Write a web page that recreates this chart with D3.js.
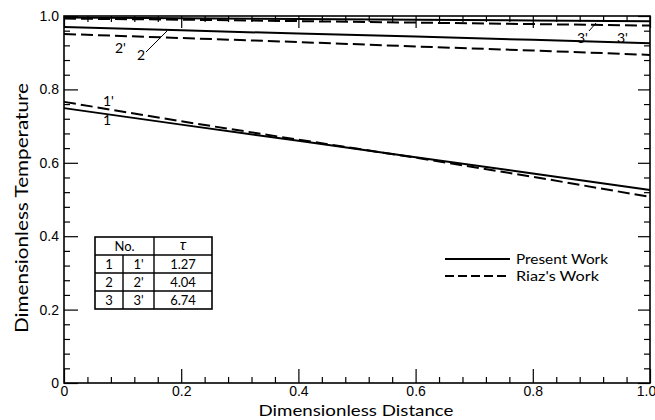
<!DOCTYPE html>
<html>
<head>
<meta charset="utf-8">
<script src="https://cdn.jsdelivr.net/npm/d3@7"></script>
<style>
  body { margin: 0; background: #fff; }
  svg { font-family: Lato, "Open Sans", sans-serif; }
</style>
</head>
<body>
<div id="chart"></div>
<script>
// data
const xPts = [0, 0.2, 0.4, 0.6, 0.8, 1.0];
const present1 = [0.749, 0.704, 0.660, 0.615, 0.571, 0.526];
const riaz1    = [0.766, 0.713, 0.663, 0.614, 0.562, 0.507];
const present2 = [0.970, 0.961, 0.952, 0.944, 0.935, 0.926];
const riaz2    = [0.951, 0.940, 0.929, 0.917, 0.906, 0.894];
const present3 = [0.996, 0.994, 0.992, 0.990, 0.988, 0.986];
const riaz3    = [0.993, 0.990, 0.986, 0.982, 0.978, 0.974];

const xTickLabels = ['0', '0.2', '0.4', '0.6', '0.8', '1.0'];
const yTickLabels = ['0', '0.2', '0.4', '0.6', '0.8', '1.0'];
const majorTicks = [0, 0.2, 0.4, 0.6, 0.8, 1.0];
const minorTicks = [0.04, 0.08, 0.12, 0.16, 0.24, 0.28, 0.32, 0.36, 0.44, 0.48, 0.52, 0.56,
                    0.64, 0.68, 0.72, 0.76, 0.84, 0.88, 0.92, 0.96];

const tableNo = [['1', "1'"], ['2', "2'"], ['3', "3'"]];
const tableTau = ['1.27', '4.04', '6.74'];
const legendNames = ['Present Work', "Riaz's Work"];

const width = 655, height = 420;
const margin = {top: 16, right: 5, bottom: 37, left: 64};
const plotW = width - margin.left - margin.right;
const plotH = height - margin.top - margin.bottom;

const svg = d3.select('#chart').append('svg')
    .attr('width', width)
    .attr('height', height);

const g = svg.append('g')
    .attr('transform', `translate(${margin.left},${margin.top})`);

const x = d3.scaleLinear().domain([0, 1]).range([0, plotW]);
const y = d3.scaleLinear().domain([0, 1]).range([plotH, 0]);

// frame
g.append('rect')
    .attr('width', plotW).attr('height', plotH)
    .attr('fill', 'none').attr('stroke', '#000').attr('stroke-width', 1.6);

function styleAxis(sel) {
    sel.select('.domain').remove();
    sel.selectAll('line').attr('stroke', '#000').attr('stroke-width', 1.2);
    sel.selectAll('text').attr('fill', '#000').attr('font-size', 14);
}

// bottom axis
const xAx = g.append('g').attr('transform', `translate(0,${plotH})`)
    .call(d3.axisBottom(x).tickValues(majorTicks).tickSize(-14).tickPadding(3)
        .tickFormat((d, i) => xTickLabels[i]))
    .call(styleAxis);
xAx.selectAll('.tick').filter(d => d === 1).select('text').attr('dx', -4);
g.append('g').attr('transform', `translate(0,${plotH})`)
    .call(d3.axisBottom(x).tickValues(minorTicks).tickSize(-6).tickFormat(''))
    .call(styleAxis);
// top axis
g.append('g')
    .call(d3.axisTop(x).tickValues(majorTicks).tickSize(-12).tickFormat(''))
    .call(styleAxis);
g.append('g')
    .call(d3.axisTop(x).tickValues(minorTicks).tickSize(-6).tickFormat(''))
    .call(styleAxis);
// left axis
g.append('g')
    .call(d3.axisLeft(y).tickValues(majorTicks).tickSize(-14).tickPadding(5)
        .tickFormat((d, i) => yTickLabels[i]))
    .call(styleAxis);
g.append('g')
    .call(d3.axisLeft(y).tickValues(minorTicks).tickSize(-6).tickFormat(''))
    .call(styleAxis);
// right axis
g.append('g').attr('transform', `translate(${plotW},0)`)
    .call(d3.axisRight(y).tickValues(majorTicks).tickSize(-12).tickFormat(''))
    .call(styleAxis);
g.append('g').attr('transform', `translate(${plotW},0)`)
    .call(d3.axisRight(y).tickValues(minorTicks).tickSize(-6).tickFormat(''))
    .call(styleAxis);

// curves
const line = d3.line().x((d, i) => x(xPts[i])).y(d => y(d));
const series = [
    {vals: present1, dash: null},
    {vals: riaz1, dash: '12,5'},
    {vals: present2, dash: null},
    {vals: riaz2, dash: '12,5'},
    {vals: present3, dash: null},
    {vals: riaz3, dash: '12,5'}
];
series.forEach(s => {
    g.append('path')
        .datum(s.vals)
        .attr('d', line)
        .attr('fill', 'none')
        .attr('stroke', '#000')
        .attr('stroke-width', 2)
        .attr('stroke-dasharray', s.dash);
});

// curve labels
const lab = svg.append('g').attr('font-size', 14).attr('fill', '#000');
lab.append('text').attr('x', 103).attr('y', 106).text("1'");
lab.append('text').attr('x', 103).attr('y', 125).text('1');
lab.append('text').attr('x', 115).attr('y', 53).text("2'");
lab.append('text').attr('x', 137).attr('y', 60).text('2');
lab.append('text').attr('x', 577).attr('y', 43).text("3'");
lab.append('text').attr('x', 617).attr('y', 43).text("3'");
svg.append('line').attr('x1', 146).attr('y1', 52).attr('x2', 167).attr('y2', 31)
    .attr('stroke', '#000').attr('stroke-width', 1);
svg.append('line').attr('x1', 589).attr('y1', 31).attr('x2', 596).attr('y2', 23)
    .attr('stroke', '#000').attr('stroke-width', 1);

// table
const tbl = svg.append('g').attr('font-size', 13).attr('fill', '#000');
const colX = [95, 123, 154, 212];
const rowY = [237, 255, 273, 291, 309];
tbl.append('rect').attr('x', colX[0]).attr('y', rowY[0])
    .attr('width', colX[3] - colX[0]).attr('height', rowY[4] - rowY[0])
    .attr('fill', 'none').attr('stroke', '#000').attr('stroke-width', 1.6);
rowY.slice(1, 4).forEach(ry => {
    tbl.append('line').attr('x1', colX[0]).attr('x2', colX[3]).attr('y1', ry).attr('y2', ry)
        .attr('stroke', '#000').attr('stroke-width', 1.4);
});
tbl.append('line').attr('x1', colX[1]).attr('x2', colX[1]).attr('y1', rowY[1]).attr('y2', rowY[4])
    .attr('stroke', '#000').attr('stroke-width', 1.4);
tbl.append('line').attr('x1', colX[2]).attr('x2', colX[2]).attr('y1', rowY[0]).attr('y2', rowY[4])
    .attr('stroke', '#000').attr('stroke-width', 1.4);
tbl.append('text').attr('x', (colX[0] + colX[2]) / 2).attr('y', rowY[0] + 14)
    .attr('text-anchor', 'middle').text('No.');
tbl.append('text').attr('x', (colX[2] + colX[3]) / 2).attr('y', rowY[0] + 13)
    .attr('text-anchor', 'middle').attr('font-size', 15).attr('font-style', 'italic').text('τ');
tableNo.forEach((r, i) => {
    tbl.append('text').attr('x', (colX[0] + colX[1]) / 2).attr('y', rowY[i + 1] + 14)
        .attr('text-anchor', 'middle').text(r[0]);
    tbl.append('text').attr('x', (colX[1] + colX[2]) / 2).attr('y', rowY[i + 1] + 14)
        .attr('text-anchor', 'middle').text(r[1]);
    tbl.append('text').attr('x', (colX[2] + colX[3]) / 2).attr('y', rowY[i + 1] + 14)
        .attr('text-anchor', 'middle').text(tableTau[i]);
});

// legend
const legend = svg.append('g').attr('transform', 'translate(445,259)');
const legendLen = [92, 83];
legendNames.forEach((name, i) => {
    legend.append('line')
        .attr('x1', 0).attr('x2', 65).attr('y1', i * 17).attr('y2', i * 17)
        .attr('stroke', '#000').attr('stroke-width', 2)
        .attr('stroke-dasharray', i === 1 ? '9,4' : null);
    legend.append('text')
        .attr('x', 71).attr('y', i * 17 + 5)
        .attr('font-size', 14).attr('fill', '#000')
        .attr('textLength', legendLen[i]).attr('lengthAdjust', 'spacingAndGlyphs')
        .text(name);
});

// axis titles
svg.append('text')
    .attr('x', 356).attr('y', 416)
    .attr('text-anchor', 'middle').attr('font-size', 16).attr('fill', '#000')
    .attr('textLength', 195).attr('lengthAdjust', 'spacingAndGlyphs')
    .text('Dimensionless Distance');
svg.append('text')
    .attr('transform', 'translate(28,208) rotate(-90)')
    .attr('text-anchor', 'middle').attr('font-size', 17).attr('fill', '#000')
    .attr('textLength', 250).attr('lengthAdjust', 'spacingAndGlyphs')
    .text('Dimensionless Temperature');
</script>
</body>
</html>
